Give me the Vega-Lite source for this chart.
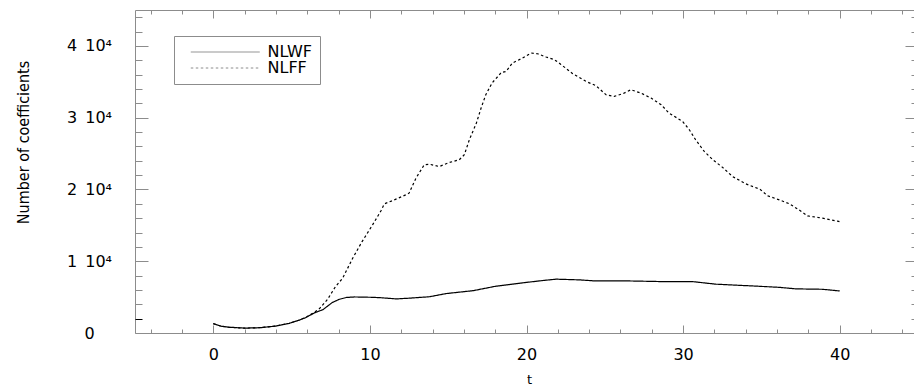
{
  "$schema": "https://vega.github.io/schema/vega-lite/v6.json",
  "width": 783,
  "height": 323,
  "autosize": {"type": "none"},
  "padding": {"left": 135, "top": 10, "right": 0, "bottom": 53},
  "background": "white",
  "config": {
    "view": {"stroke": "#8c8c8c", "strokeWidth": 1},
    "axis": {"domain": false, "grid": false, "tickColor": "#8c8c8c", "tickWidth": 1, "labelOverlap": false, "labelFlush": false}
  },
  "data": {"values": [
    {"t": 0, "v": 1300, "s": "NLWF"}, {"t": 0.5, "v": 950, "s": "NLWF"}, {"t": 1, "v": 800, "s": "NLWF"}, {"t": 2, "v": 680, "s": "NLWF"}, {"t": 3, "v": 740, "s": "NLWF"}, {"t": 4, "v": 970, "s": "NLWF"}, {"t": 4.85, "v": 1350, "s": "NLWF"}, {"t": 5.5, "v": 1800, "s": "NLWF"}, {"t": 5.9, "v": 2140, "s": "NLWF"}, {"t": 6.45, "v": 2800, "s": "NLWF"}, {"t": 7, "v": 3250, "s": "NLWF"}, {"t": 7.6, "v": 4250, "s": "NLWF"}, {"t": 8.05, "v": 4700, "s": "NLWF"}, {"t": 8.5, "v": 4950, "s": "NLWF"}, {"t": 9, "v": 5020, "s": "NLWF"}, {"t": 10, "v": 4980, "s": "NLWF"}, {"t": 10.6, "v": 4930, "s": "NLWF"}, {"t": 11.7, "v": 4750, "s": "NLWF"}, {"t": 12.5, "v": 4850, "s": "NLWF"}, {"t": 13.8, "v": 5050, "s": "NLWF"}, {"t": 14.9, "v": 5500, "s": "NLWF"}, {"t": 16.6, "v": 5900, "s": "NLWF"}, {"t": 18, "v": 6500, "s": "NLWF"}, {"t": 19.8, "v": 7000, "s": "NLWF"}, {"t": 21, "v": 7300, "s": "NLWF"}, {"t": 21.9, "v": 7500, "s": "NLWF"}, {"t": 23.4, "v": 7400, "s": "NLWF"}, {"t": 24.4, "v": 7250, "s": "NLWF"}, {"t": 26.6, "v": 7250, "s": "NLWF"}, {"t": 28.7, "v": 7160, "s": "NLWF"}, {"t": 30.6, "v": 7160, "s": "NLWF"}, {"t": 32.1, "v": 6800, "s": "NLWF"}, {"t": 34, "v": 6600, "s": "NLWF"}, {"t": 36.1, "v": 6370, "s": "NLWF"}, {"t": 37.2, "v": 6150, "s": "NLWF"}, {"t": 38.9, "v": 6090, "s": "NLWF"}, {"t": 40, "v": 5860, "s": "NLWF"},
    {"t": 0, "v": 1300, "s": "NLFF"}, {"t": 0.5, "v": 950, "s": "NLFF"}, {"t": 1, "v": 800, "s": "NLFF"}, {"t": 2, "v": 680, "s": "NLFF"}, {"t": 3, "v": 740, "s": "NLFF"}, {"t": 4, "v": 970, "s": "NLFF"}, {"t": 4.85, "v": 1350, "s": "NLFF"}, {"t": 5.5, "v": 1820, "s": "NLFF"}, {"t": 6, "v": 2300, "s": "NLFF"}, {"t": 6.5, "v": 2950, "s": "NLFF"}, {"t": 6.8, "v": 3440, "s": "NLFF"}, {"t": 7.3, "v": 4700, "s": "NLFF"}, {"t": 7.8, "v": 6460, "s": "NLFF"}, {"t": 8.26, "v": 7630, "s": "NLFF"}, {"t": 8.9, "v": 10420, "s": "NLFF"}, {"t": 9.5, "v": 12730, "s": "NLFF"}, {"t": 10.17, "v": 15060, "s": "NLFF"}, {"t": 10.7, "v": 17000, "s": "NLFF"}, {"t": 10.92, "v": 17990, "s": "NLFF"}, {"t": 11.45, "v": 18450, "s": "NLFF"}, {"t": 12.3, "v": 19250, "s": "NLFF"}, {"t": 12.5, "v": 19480, "s": "NLFF"}, {"t": 12.94, "v": 21570, "s": "NLFF"}, {"t": 13.47, "v": 23430, "s": "NLFF"}, {"t": 13.8, "v": 23520, "s": "NLFF"}, {"t": 14.43, "v": 23190, "s": "NLFF"}, {"t": 15.07, "v": 23750, "s": "NLFF"}, {"t": 15.7, "v": 24130, "s": "NLFF"}, {"t": 16.03, "v": 24830, "s": "NLFF"}, {"t": 16.35, "v": 26920, "s": "NLFF"}, {"t": 16.8, "v": 29250, "s": "NLFF"}, {"t": 17.1, "v": 31340, "s": "NLFF"}, {"t": 17.4, "v": 33190, "s": "NLFF"}, {"t": 17.8, "v": 34830, "s": "NLFF"}, {"t": 18.4, "v": 36310, "s": "NLFF"}, {"t": 18.7, "v": 36440, "s": "NLFF"}, {"t": 19.1, "v": 37610, "s": "NLFF"}, {"t": 19.75, "v": 38310, "s": "NLFF"}, {"t": 20.3, "v": 39010, "s": "NLFF"}, {"t": 20.7, "v": 38910, "s": "NLFF"}, {"t": 21.25, "v": 38450, "s": "NLFF"}, {"t": 21.78, "v": 38080, "s": "NLFF"}, {"t": 22.2, "v": 37420, "s": "NLFF"}, {"t": 22.95, "v": 36120, "s": "NLFF"}, {"t": 23.8, "v": 35050, "s": "NLFF"}, {"t": 24.44, "v": 34450, "s": "NLFF"}, {"t": 25.08, "v": 33190, "s": "NLFF"}, {"t": 25.6, "v": 32960, "s": "NLFF"}, {"t": 26.14, "v": 33330, "s": "NLFF"}, {"t": 26.67, "v": 33890, "s": "NLFF"}, {"t": 27.3, "v": 33430, "s": "NLFF"}, {"t": 27.95, "v": 32730, "s": "NLFF"}, {"t": 28.6, "v": 31800, "s": "NLFF"}, {"t": 29.1, "v": 30640, "s": "NLFF"}, {"t": 29.97, "v": 29470, "s": "NLFF"}, {"t": 30.4, "v": 28310, "s": "NLFF"}, {"t": 30.8, "v": 26920, "s": "NLFF"}, {"t": 31.35, "v": 25290, "s": "NLFF"}, {"t": 31.9, "v": 24130, "s": "NLFF"}, {"t": 32.5, "v": 23110, "s": "NLFF"}, {"t": 33.16, "v": 21800, "s": "NLFF"}, {"t": 34, "v": 20780, "s": "NLFF"}, {"t": 34.9, "v": 20040, "s": "NLFF"}, {"t": 35.4, "v": 19110, "s": "NLFF"}, {"t": 36.14, "v": 18550, "s": "NLFF"}, {"t": 36.8, "v": 17990, "s": "NLFF"}, {"t": 37.4, "v": 17150, "s": "NLFF"}, {"t": 37.95, "v": 16320, "s": "NLFF"}, {"t": 38.9, "v": 16000, "s": "NLFF"}, {"t": 39.87, "v": 15580, "s": "NLFF"}, {"t": 40, "v": 15500, "s": "NLFF"}
  ]},
  "layer": [
    {
      "mark": {"type": "line", "color": "black", "strokeWidth": 1.2},
      "encoding": {
        "x": {"field": "t", "type": "quantitative", "scale": {"domain": [-5, 45], "nice": false, "zero": false},
          "axis": {"orient": "bottom", "values": [-4, -2, 0, 2, 4, 6, 8, 10, 12, 14, 16, 18, 20, 22, 24, 26, 28, 30, 32, 34, 36, 38, 40, 42, 44],
            "tickSize": {"condition": {"test": "datum.value % 10 === 0", "value": -8}, "value": -4},
            "labelExpr": "datum.value % 10 === 0 ? format(datum.value, 'd') : ''",
            "labelFont": "DejaVu Sans", "labelFontSize": 16, "labelColor": "black", "labelBaseline": "middle", "labelPadding": 29,
            "title": "t", "titleFont": "DejaVu Sans", "titleFontSize": 13, "titleFontWeight": "normal", "titleColor": "black",
            "titleX": 394, "titleY": 50, "titleBaseline": "alphabetic", "titleAlign": "center", "titleAnchor": null}},
        "y": {"field": "v", "type": "quantitative", "scale": {"domain": [0, 45000], "nice": false},
          "axis": {"orient": "left", "values": [0, 2000, 4000, 6000, 8000, 10000, 12000, 14000, 16000, 18000, 20000, 22000, 24000, 26000, 28000, 30000, 32000, 34000, 36000, 38000, 40000, 42000, 44000],
            "tickSize": {"condition": {"test": "datum.value % 10000 === 0", "value": -13}, "value": -7},
            "tickColor": {"condition": {"test": "datum.value === 2000", "value": "black"}, "value": "#8c8c8c"},
            "labelExpr": "datum.value === 0 ? '0' : (datum.value % 10000 === 0 ? (datum.value / 10000) + '\u2002' + '10⁴' : '')",
            "labelFont": "DejaVu Sans", "labelFontSize": 16, "labelColor": "black", "labelAlign": "center", "labelBaseline": "middle", "labelPadding": 59,
            "title": "Number of coefficients", "titleFont": "Liberation Sans Narrow, DejaVu Sans Condensed, Liberation Sans", "titleFontSize": 16, "titleFontWeight": "normal", "titleColor": "black",
            "titleX": -112, "titleY": 132, "titleAngle": -90, "titleAlign": "center", "titleBaseline": "middle", "titleAnchor": null}},
        "strokeDash": {"field": "s", "type": "nominal", "scale": {"domain": ["NLWF", "NLFF"], "range": [[1, 0], [2.5, 2.5]]},
          "legend": {"orient": "none", "legendX": 39, "legendY": 26, "title": null, "strokeColor": "#8c8c8c", "fillColor": "white", "padding": 8,
            "symbolType": "M-6,0H6", "symbolSize": 132, "symbolStrokeColor": "#8c8c8c", "symbolStrokeWidth": 1, "symbolOffset": 35.25,
            "labelFont": "DejaVu Sans", "labelFontSize": 16, "labelColor": "black", "labelOffset": 34.25, "rowPadding": -4}}
      }
    },
    {
      "mark": {"type": "line", "opacity": 0},
      "encoding": {
        "x": {"field": "t", "type": "quantitative",
          "axis": {"orient": "top", "values": [-4, -2, 0, 2, 4, 6, 8, 10, 12, 14, 16, 18, 20, 22, 24, 26, 28, 30, 32, 34, 36, 38, 40, 42, 44],
            "tickSize": {"condition": {"test": "datum.value % 10 === 0", "value": -8}, "value": -4},
            "labels": false, "title": null}},
        "y": {"field": "v", "type": "quantitative",
          "axis": {"orient": "right", "values": [0, 2000, 4000, 6000, 8000, 10000, 12000, 14000, 16000, 18000, 20000, 22000, 24000, 26000, 28000, 30000, 32000, 34000, 36000, 38000, 40000, 42000, 44000],
            "tickSize": {"condition": {"test": "datum.value % 10000 === 0", "value": -13}, "value": -7},
            "labels": false, "title": null}}
      }
    }
  ],
  "resolve": {"axis": {"x": "independent", "y": "independent"}}
}
